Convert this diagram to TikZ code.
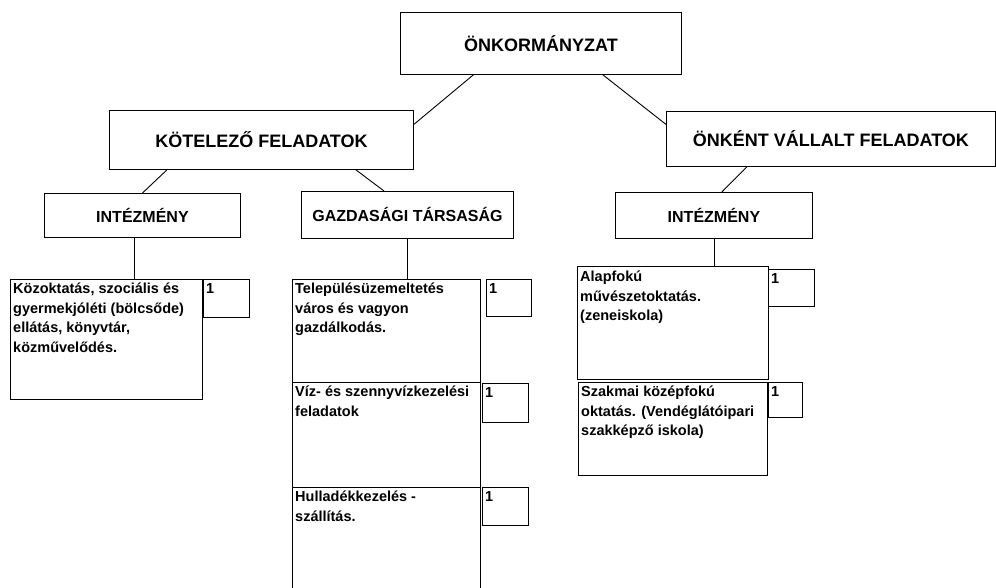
\documentclass[tikz,border=0pt]{standalone}
\usepackage{fontspec}
\setmainfont{Liberation Sans}
\usetikzlibrary{calc}

\begin{document}
\begin{tikzpicture}[
    x=1pt, y=-1pt,
    box/.style = {draw, line width=0.9pt, anchor=north west, inner sep=0pt},
    head/.style = {box, font=\bfseries\fontsize{18}{22}\selectfont},
    sub/.style = {box, font=\bfseries\fontsize{16}{20}\selectfont},
    task/.style = {box},
    txt/.style = {anchor=north west, inner xsep=3pt, inner ysep=4pt, align=left, font=\bfseries\fontsize{14.5}{19.5}\selectfont},
    num/.style = {box, label={[txt]north west:1}},
    link/.style = {line width=0.9pt}
]
\useasboundingbox (0,0) rectangle (996,588);

% Top levels
\node (onk) [head, minimum width=281pt, minimum height=62pt] at (400,12) {ÖNKORMÁNYZAT};
\node (kot) [head, minimum width=304pt, minimum height=59pt] at (109,110) {KÖTELEZŐ FELADATOK};
\node (onkent) [head, minimum width=329pt, minimum height=55pt] at (666,111) {ÖNKÉNT VÁLLALT FELADATOK};

\node (int1) [sub, minimum width=196pt, minimum height=44pt] at (44,193) {INTÉZMÉNY};
\node (gazd) [sub, minimum width=212pt, minimum height=47pt] at (301,191) {GAZDASÁGI TÁRSASÁG};
\node (int2) [sub, minimum width=197pt, minimum height=46pt] at (615,192) {INTÉZMÉNY};

% Tasks
\node (kozokt) [task, minimum width=192pt, minimum height=120pt,
    label={[txt]north west:Közoktatás, szociális és\\gyermekjóléti (bölcsőde)\\ellátás, könyvtár,\\közművelődés.}] at (10,279) {};
\node (telep) [task, minimum width=188pt, minimum height=103pt,
    label={[txt]north west:Településüzemeltetés\\város és vagyon\\gazdálkodás.}] at (292,279) {};
\node (viz) [task, minimum width=188pt, minimum height=105pt,
    label={[txt]north west:Víz- és szennyvízkezelési\\feladatok}] at (292,382) {};
\node (hull) [task, minimum width=188pt, minimum height=104pt,
    label={[txt]north west:Hulladékkezelés -\\szállítás.}] at (292,487) {};
\node (alap) [task, minimum width=191pt, minimum height=113pt,
    label={[txt, inner ysep=5pt]north west:Alapfokú\\művészetoktatás.\\(zeneiskola)}] at (577,266) {};
\node (szakm) [task, minimum width=189pt, minimum height=93pt,
    label={[txt]north west:Szakmai középfokú\\oktatás. (Vendéglátóipari\\szakképző iskola)}] at (578,382) {};

% Number boxes
\node (nkozokt) [num, minimum width=46pt, minimum height=38pt] at (203,279) {};
\node (ntelep) [num, minimum width=45pt, minimum height=37pt] at (486,279) {};
\node (nviz) [num, minimum width=46pt, minimum height=39pt] at (482,383) {};
\node (nhull) [num, minimum width=46pt, minimum height=38pt] at (482,487) {};
\node (nalap) [num, minimum width=46pt, minimum height=37pt] at (768,269) {};
\node (nszakm) [num, minimum width=34pt, minimum height=35pt] at (768,382) {};

% Connectors
\draw [link] ($(onk.south west)!0.26!(onk.south east)$) -- ($(kot.north east)!0.24!(kot.south east)$);
\draw [link] ($(onk.south west)!0.72!(onk.south east)$) -- ($(onkent.north west)!0.24!(onkent.south west)$);
\draw [link] ($(kot.south west)!0.19!(kot.south east)$) -- (int1.north);
\draw [link] ($(kot.south west)!0.81!(kot.south east)$) -- ($(gazd.north west)!0.39!(gazd.north east)$);
\draw [link] ($(onkent.south west)!0.245!(onkent.south east)$) -- ($(int2.north west)!0.54!(int2.north east)$);
\draw [link] ($(int1.south west)!0.46!(int1.south east)$) coordinate (c1) -- (c1 |- kozokt.north);
\draw [link] (gazd.south) -- (gazd.south |- telep.north);
\draw [link] (int2.south) -- (int2.south |- alap.north);

\end{tikzpicture}
\end{document}
